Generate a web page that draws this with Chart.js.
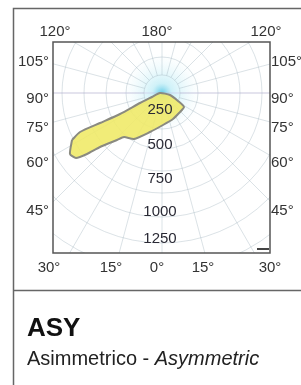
<!DOCTYPE html>
<html>
<head>
<meta charset="utf-8">
<script src="https://cdn.jsdelivr.net/npm/chart.js@4/dist/chart.umd.min.js"></script>
<style>
  body { margin: 0; background: #fff; }
  canvas { display: block; }
</style>
</head>
<body>
<canvas id="c" width="301" height="385"></canvas>
<script>
// outline of the light distribution (plot units, centre of luminaire = 0,0)
const blobX = [-90, -82, -62, -42, -22, -10, -2, 8, 16, 22, 17, 11, 1, -12, -28, -38, -45, -62, -75, -86, -92, -90];
const blobY = [-47, -39, -30, -21, -10, -4, 0, -2, -8, -14, -20, -26, -32, -39, -46, -44, -47, -54, -61, -65, -61, -47];

const intensityLabels = ['250', '500', '750', '1000', '1250'];
const topLabels = ['120°', '180°', '120°'];
const sideLabels = ['105°', '90°', '75°', '60°', '45°'];
const bottomLabels = ['30°', '15°', '0°', '15°', '30°'];

const gridRadii = [18, 36, 56, 78, 100, 124, 150, 178, 208];
const gridStep = 15; // degrees between radial lines

const titleText = 'ASY';
const subText = 'Asimmetrico - ';
const subTextItalic = 'Asymmetric';

// where the labels sit (plot units)
const topLabelX = [-107, -5, 104];
const sideLabelY = [31, -6, -35, -70, -118];
const bottomLabelX = [-113, -51, -5, 41, 108];
const intensityLabelY = [-17, -52, -86, -119, -146];

const FONT = '"Liberation Sans", Arial, sans-serif';

const polarGrid = {
    id: 'polarGrid',
    beforeDatasetsDraw(chart) {
        const ctx = chart.ctx;
        const a = chart.chartArea;
        const xs = chart.scales.x, ys = chart.scales.y;
        const cx = xs.getPixelForValue(0), cy = ys.getPixelForValue(0);
        const unit = xs.getPixelForValue(1) - cx;
        ctx.save();
        ctx.beginPath();
        ctx.rect(a.left, a.top, a.right - a.left, a.bottom - a.top);
        ctx.clip();

        // soft glow round the source
        let g = ctx.createRadialGradient(cx, cy, 0, cx, cy, 40 * unit);
        g.addColorStop(0, 'rgba(60,190,225,0.8)');
        g.addColorStop(0.25, 'rgba(150,225,240,0.45)');
        g.addColorStop(1, 'rgba(220,245,250,0)');
        ctx.fillStyle = g;
        ctx.fillRect(a.left, a.top, a.right - a.left, a.bottom - a.top);

        ctx.strokeStyle = 'rgba(160,180,190,0.38)';
        ctx.lineWidth = 1;
        gridRadii.forEach(r => {
            ctx.beginPath();
            ctx.arc(cx, cy, r * unit, 0, Math.PI * 2);
            ctx.stroke();
        });
        for (let d = 0; d < 360; d += gridStep) {
            const t = d * Math.PI / 180;
            ctx.beginPath();
            ctx.moveTo(cx + Math.cos(t) * gridRadii[0] * unit, cy + Math.sin(t) * gridRadii[0] * unit);
            ctx.lineTo(cx + Math.cos(t) * 320, cy + Math.sin(t) * 320);
            ctx.stroke();
        }
        ctx.strokeStyle = 'rgba(190,170,220,0.4)';
        ctx.beginPath();
        ctx.moveTo(a.left, cy);
        ctx.lineTo(a.right, cy);
        ctx.stroke();
        ctx.restore();
    },
    afterDatasetsDraw(chart) {
        const ctx = chart.ctx;
        const xs = chart.scales.x, ys = chart.scales.y;
        ctx.save();
        ctx.fillStyle = '#2a2a35';
        ctx.font = '15px ' + FONT;
        ctx.textAlign = 'center';
        ctx.textBaseline = 'middle';
        intensityLabels.forEach((t, i) => ctx.fillText(t, xs.getPixelForValue(-2), ys.getPixelForValue(intensityLabelY[i])));
        ctx.restore();
    },
    afterDraw(chart) {
        const ctx = chart.ctx;
        const a = chart.chartArea;
        const xs = chart.scales.x, ys = chart.scales.y;
        ctx.save();
        // frames
        ctx.strokeStyle = '#555';
        ctx.lineWidth = 1.5;
        ctx.strokeRect(a.left, a.top, a.right - a.left, a.bottom - a.top);
        ctx.strokeStyle = '#666';
        ctx.beginPath();
        ctx.moveTo(13.5, 385); ctx.lineTo(13.5, 8.5); ctx.lineTo(301, 8.5);
        ctx.moveTo(13.5, 290.5); ctx.lineTo(301, 290.5);
        ctx.stroke();
        // scale bar
        ctx.strokeStyle = '#444';
        ctx.lineWidth = 2;
        ctx.beginPath();
        ctx.moveTo(a.right - 13, a.bottom - 4); ctx.lineTo(a.right - 1, a.bottom - 4);
        ctx.stroke();

        ctx.fillStyle = '#333';
        ctx.font = '15px ' + FONT;
        ctx.textBaseline = 'middle';
        ctx.textAlign = 'center';
        topLabels.forEach((t, i) => ctx.fillText(t, xs.getPixelForValue(topLabelX[i]), a.top - 10));
        bottomLabels.forEach((t, i) => ctx.fillText(t, xs.getPixelForValue(bottomLabelX[i]), a.bottom + 15));
        ctx.textAlign = 'right';
        sideLabels.forEach((t, i) => ctx.fillText(t, a.left - 4, ys.getPixelForValue(sideLabelY[i])));
        ctx.textAlign = 'left';
        sideLabels.forEach((t, i) => ctx.fillText(t, a.right + 1, ys.getPixelForValue(sideLabelY[i])));

        ctx.textBaseline = 'alphabetic';
        ctx.fillStyle = '#111';
        ctx.font = 'bold 26px ' + FONT;
        ctx.fillText(titleText, 27, 336);
        ctx.fillStyle = '#222';
        ctx.font = '20px ' + FONT;
        ctx.fillText(subText, 27, 365);
        const w = ctx.measureText(subText).width;
        ctx.font = 'italic 20px ' + FONT;
        ctx.fillText(subTextItalic, 27 + w, 365);
        ctx.restore();
    }
};

new Chart(document.getElementById('c'), {
    type: 'scatter',
    data: {
        datasets: [{
            data: blobX.map((x, i) => ({ x: x, y: blobY[i] })),
            showLine: true,
            fill: 'shape',
            tension: 0.2,
            borderColor: '#8a8a80',
            borderWidth: 2,
            backgroundColor: 'rgba(240,234,105,0.9)',
            pointRadius: 0
        }]
    },
    options: {
        responsive: false,
        animation: false,
        devicePixelRatio: 1,
        layout: { padding: { left: 53, top: 42, right: 31, bottom: 132 } },
        plugins: { legend: { display: false }, tooltip: { enabled: false } },
        scales: {
            x: { type: 'linear', min: -109, max: 108, display: false },
            y: { type: 'linear', min: -160, max: 51, display: false }
        }
    },
    plugins: [polarGrid]
});
</script>
</body>
</html>
